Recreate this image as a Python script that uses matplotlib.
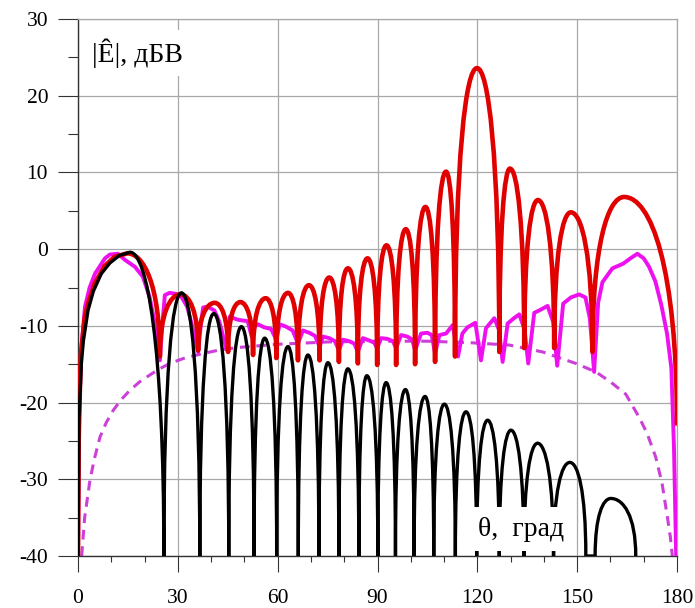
import matplotlib
matplotlib.use("Agg")
import matplotlib.pyplot as plt
from matplotlib.path import Path
from matplotlib.patches import PathPatch
from matplotlib.ticker import MultipleLocator

plt.rcParams['font.family'] = ['Liberation Serif', 'DejaVu Serif']
plt.rcParams['axes.unicode_minus'] = False

# ---- red: total pattern (rise of first lobe, then null / peak knots) ----
red_rise_x = [0.0, 0.2, 0.8, 2.0, 3.1, 5.0, 8.0, 11.0, 14.8]
red_rise_y = [-40.0, -25.0, -14.0, -9.0, -7.0, -4.5, -2.2, -1.0, -0.55]
red_knot_x = [14.8, 24.6, 30.8, 36.1, 41.1, 45.1, 48.8, 52.6, 56.4, 59.6,
              63.1, 66.1, 69.4, 72.6, 75.5, 78.4, 81.1, 84.1, 87.0, 89.9,
              92.7, 95.6, 98.5, 101.3, 104.4, 107.3, 110.6, 113.3, 119.9,
              126.6, 129.8, 134.1, 138.2, 143.1, 148.1, 154.6, 164.1, 180.0]
red_knot_y = [-0.55, -14.0, -5.9, -13.2, -7.0, -13.4, -6.9, -13.8, -6.4, -14.2,
              -5.7, -14.5, -4.7, -14.5, -3.7, -14.7, -2.5, -14.9, -1.2, -15.1,
              0.5, -15.1, 2.6, -15.0, 5.5, -14.7, 10.1, -14.0, 23.6,
              -13.4, 10.5, -12.9, 6.4, -12.9, 4.8, -13.4, 6.8, -23.0]

# ---- black: pattern without scan ----
blk_rise_x = [0.0, 0.3, 1.0, 1.6, 3.0, 4.6, 7.0, 9.6, 12.5, 15.6]
blk_rise_y = [-40.0, -22.0, -15.0, -12.0, -8.0, -5.5, -3.2, -1.8, -0.8, -0.4]
blk_knot_x = [15.6, 25.8, 31.1, 36.6, 40.8, 45.3, 49.1, 52.9, 56.1, 59.7,
              63.1, 66.2, 69.1, 72.4, 75.1, 78.4, 81.1, 84.4, 86.8, 90.1,
              92.6, 95.4, 98.4, 101.0, 104.3, 106.9, 110.1, 113.4, 116.6,
              119.8, 123.1, 126.6, 130.1, 134.0, 138.1, 142.9, 147.8, 152.6,
              155.4, 160.1, 167.6]
blk_knot_y = [-0.4, -40, -5.7, -40, -8.4, -40, -10.1, -40, -11.6, -40,
              -12.7, -40, -13.8, -40, -14.8, -40, -15.6, -40, -16.5, -40,
              -17.4, -40, -18.3, -40, -19.2, -40, -20.2, -40, -21.2,
              -40, -22.3, -40, -23.6, -40, -25.3, -40, -27.8, -40,
              -40, -32.5, -40]

# ---- magenta solid ----
mag_x = [0, 0.3, 1.0, 2.1, 3.5, 5.1, 8.1, 9.6, 12.0, 14.1, 17.1, 19.5, 21.5,
         23.0, 24.6, 25.4, 26.1, 27.5, 29.1, 30.8, 32.8, 34.6, 36.1, 37.0,
         37.6, 39.0, 41.0, 42.5, 44.6, 45.6, 48.0, 51.0, 52.2, 53.2, 54.1,
         56.0, 58.0, 59.6, 60.6, 62.5, 64.5, 66.1, 67.6, 69.5, 71.2, 72.6,
         73.6, 75.5, 77.2, 78.4, 79.6, 81.5, 83.0, 84.1, 85.6, 87.5, 89.0,
         89.9, 91.1, 93.0, 94.6, 95.6, 97.1, 99.0, 100.4, 101.3, 103.1, 105.0,
         106.3, 107.3, 108.6, 110.6, 112.6, 114.2, 115.5, 117.0, 119.4, 121.1,
         122.6, 125.1, 126.5, 127.6, 129.1, 131.0, 132.6, 134.2, 135.3, 137.1,
         139.0, 141.1, 142.8, 144.0, 145.8, 148.1, 150.6, 152.5, 153.8, 155.1,
         156.3, 157.6, 160.6, 163.8, 166.0, 168.1, 170.0, 171.6, 173.5, 175.3,
         177.0, 178.3, 179.1, 179.8]
mag_y = [-40, -22, -13, -7.5, -5.0, -3.2, -1.2, -0.7, -0.6, -1.4, -2.3, -3.6, -6.2,
         -9.5, -14.5, -9.5, -6.0, -5.7, -5.8, -6.0, -7.5, -10.5, -13.4, -9.5,
         -7.6, -7.5, -8.0, -9.5, -13.0, -8.8, -9.2, -9.4, -11.4, -10.0, -9.8,
         -10.2, -10.4, -11.8, -9.8, -10.1, -10.6, -12.3, -10.6, -10.9, -11.3, -12.7,
         -11.4, -11.6, -12.0, -13.2, -11.8, -12.0, -12.3, -13.4, -11.6, -11.9, -12.2,
         -12.9, -11.6, -11.7, -12.0, -12.9, -11.2, -11.4, -11.8, -13.2, -11.0, -10.9,
         -11.2, -13.6, -11.2, -11.0, -9.9, -14.0, -11.0, -10.2, -9.6, -14.5,
         -10.3, -9.0, -10.5, -14.7, -9.7, -9.0, -8.5, -10.5, -14.9, -8.3,
         -7.9, -7.4, -9.5, -15.2, -7.1, -6.3, -5.9, -6.3, -9.0, -16.0,
         -7.0, -4.3, -2.5, -1.9, -1.2, -0.6, -1.2, -2.3, -4.2, -7.3,
         -11.0, -15.5, -26.0, -41.0]

# ---- magenta dashed: element pattern ----
dash_x = [1.1, 2.0, 3.6, 5.0, 6.6, 8.5, 10.6, 13.0, 15.6, 18.5, 21.6, 24.5, 27.6,
          32.0, 37.6, 43.0, 48.6, 60.0, 75.0, 90.0, 105.0, 118.0, 129.6, 139.6,
          149.6, 155.6, 160.0, 164.6, 168.6, 171.0, 173.6, 175.5, 177.1, 178.0, 178.6]
dash_y = [-40, -35, -30.1, -27.2, -24.5, -22.6, -21.0, -19.6, -18.4, -17.3, -16.4,
          -15.6, -14.9, -14.2, -13.6, -13.1, -12.8, -12.4, -12.1, -12.0, -12.0,
          -12.2, -12.5, -13.4, -14.9, -16.0, -17.3, -18.9, -21.9, -24.0, -27.1,
          -30.5, -34.9, -37.5, -40]


def lobe_path(rx, ry, kx, ky, k1=0.7, k2=0.5):
    # straight pieces for the first rise, then arches null->peak->null
    verts = list(zip(rx, ry))
    codes = [Path.MOVETO] + [Path.LINETO] * (len(rx) - 1)
    for x0, y0, x1, y1 in zip(kx[:-1], ky[:-1], kx[1:], ky[1:]):
        if y0 == y1:
            verts.append((x1, y1))
            codes.append(Path.LINETO)
            continue
        w = x1 - x0
        if y1 > y0:
            c1 = (x0, y0 + k1 * (y1 - y0))
            c2 = (x1 - k2 * w, y1)
        else:
            c1 = (x0 + k2 * w, y0)
            c2 = (x1, y1 + k1 * (y0 - y1))
        verts += [c1, c2, (x1, y1)]
        codes += [Path.CURVE4] * 3
    return Path(verts, codes)


fig = plt.figure(figsize=(6.95, 6.08), dpi=100)
ax = fig.add_axes([78 / 695, 1 - 556 / 608, 599 / 695, 537 / 608])

ax.plot(dash_x, dash_y, color='#cc40d8', lw=2.2, dashes=(3.2, 2.2), zorder=2)
ax.plot(mag_x, mag_y, color='#ee10ee', lw=2.8, zorder=3, solid_joinstyle='round')
ax.add_patch(PathPatch(lobe_path(red_rise_x, red_rise_y, red_knot_x, red_knot_y),
                       fill=False, ec='#e00000', lw=3.3, zorder=4, joinstyle='round'))
ax.add_patch(PathPatch(lobe_path(blk_rise_x, blk_rise_y, blk_knot_x, blk_knot_y),
                       fill=False, ec='black', lw=2.4, zorder=5, joinstyle='round'))

ax.set_xlim(0, 180)
ax.set_ylim(-40, 30)
ax.xaxis.set_major_locator(MultipleLocator(30))
ax.xaxis.set_minor_locator(MultipleLocator(10))
ax.yaxis.set_major_locator(MultipleLocator(10))
ax.yaxis.set_minor_locator(MultipleLocator(5))
ax.grid(True, which='major', color='#a8a8a8', lw=0.9, zorder=0)
ax.set_axisbelow(True)

ax.tick_params(axis='x', which='major', direction='out', length=11.5, width=0.8,
               pad=12, labelsize=15.5, color='#333333')
ax.tick_params(axis='x', which='minor', direction='out', length=4.5, width=0.8,
               color='#333333')
ax.tick_params(axis='y', which='major', direction='out', length=14.5, width=0.8,
               pad=7, labelsize=15.5, color='#333333')
ax.tick_params(axis='y', which='minor', direction='out', length=7.2, width=0.8,
               color='#333333')

for s in ['left', 'bottom']:
    ax.spines[s].set_color('#333333')
    ax.spines[s].set_linewidth(1.0)
for s in ['top', 'right']:
    ax.spines[s].set_color('#a8a8a8')
    ax.spines[s].set_linewidth(0.9)

ax.text(4.2, 24.4, '|Ê|, дБВ', fontsize=20, ha='left', va='baseline', zorder=6,
        bbox=dict(fc='white', ec='none', boxstyle='square,pad=0.3'))
ax.text(133.0, -36.5, 'θ,  град', fontsize=20, ha='center', va='center', zorder=6,
        bbox=dict(fc='white', ec='none', boxstyle='square,pad=0.35'))

fig.savefig('out.png', dpi=100)
